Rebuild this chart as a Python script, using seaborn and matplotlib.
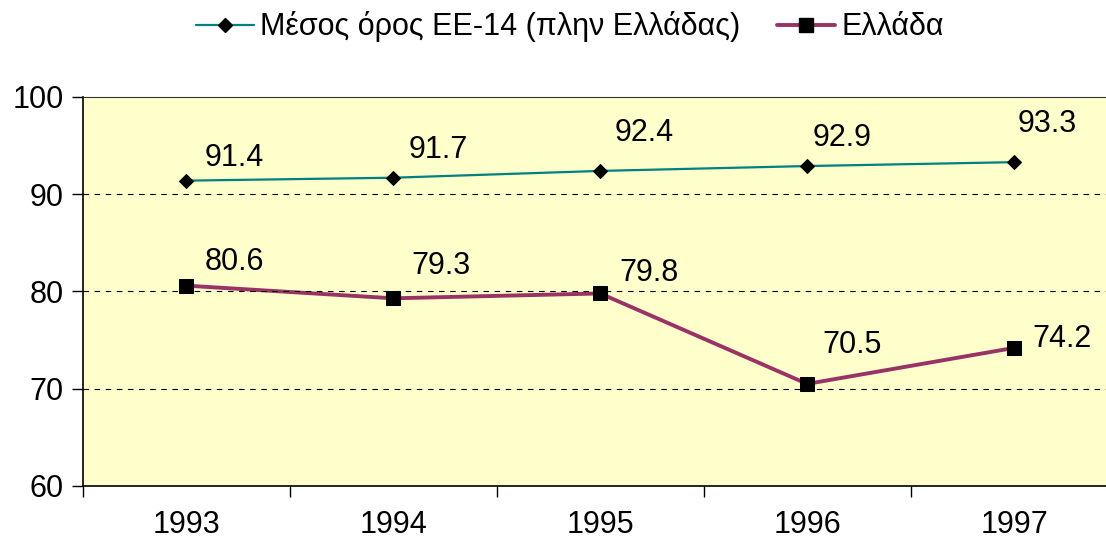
import pandas as pd
import matplotlib.pyplot as plt
import seaborn as sns
from matplotlib.lines import Line2D

# Data
years = ['1993', '1994', '1995', '1996', '1997']
eu14_avg = [91.4, 91.7, 92.4, 92.9, 93.3]
greece = [80.6, 79.3, 79.8, 70.5, 74.2]
series_names = ['Μέσος όρος ΕΕ-14 (πλην Ελλάδας)', 'Ελλάδα']

# label offsets (points) for the value labels
eu_offsets = [(34.5, 16.5), (32.5, 20), (31.5, 27.5), (25, 20), (24, 27.5)]
gr_offsets = [(34.5, 17), (34.5, 23.5), (35, 14.5), (32.5, 28), (34.5, 6.5)]
colors = ['#008080', '#993366']
markers = ['D', 's']
lws = [1.6, 2.8]
msizes = [7, 10]

df = pd.DataFrame({
    'year': years * 2,
    'pos': list(range(len(years))) * 2,
    'value': eu14_avg + greece,
    'series': [series_names[0]] * len(years) + [series_names[1]] * len(years),
})

sns.set_style('white')
plt.rcParams['font.family'] = ['Liberation Sans', 'DejaVu Sans']
plt.rcParams['text.color'] = 'black'
plt.rcParams['xtick.color'] = 'black'
plt.rcParams['ytick.color'] = 'black'

fig = plt.figure(figsize=(11.06, 5.43), dpi=100)
ax = fig.add_axes([83 / 1106, 1 - 486 / 543, (1117.5 - 83) / 1106, (486 - 97) / 543])
ax.set_facecolor('#FFFFCC')

sns.lineplot(data=df, x='pos', y='value', hue='series', style='series',
             palette=colors, markers=markers, dashes=False, ax=ax, legend=False)
for line, lw, ms in zip(ax.lines, lws, msizes):
    line.set_linewidth(lw)
    line.set_markersize(ms)
    line.set_markerfacecolor('black')
    line.set_markeredgecolor('black')

for vals, offs in [(eu14_avg, eu_offsets), (greece, gr_offsets)]:
    for i, (v, off) in enumerate(zip(vals, offs)):
        ax.annotate(f'{v:.1f}', (i, v), xytext=off, textcoords='offset points',
                    ha='center', va='center', fontsize=22, color='black')

ax.set_xlim(-0.5, len(years) - 0.5)
ax.set_ylim(60, 100)
ax.set_yticks([60, 70, 80, 90, 100])
ax.set_xticks(range(len(years)))
ax.set_xticklabels(years)
ax.set_xticks([i - 0.5 for i in range(len(years) + 1)], minor=True)
ax.tick_params(axis='x', which='major', length=0, pad=17, labelsize=22)
ax.tick_params(axis='x', which='minor', length=8, width=1, color='black', direction='out')
ax.tick_params(axis='y', length=8, width=1, color='black', direction='out', labelsize=22, pad=6)
ax.xaxis.set_ticks_position('bottom')
ax.yaxis.set_ticks_position('left')
for y in [70, 80, 90]:
    ax.axhline(y, color='black', lw=0.8, ls=(0, (5, 5)))
ax.spines['right'].set_visible(False)
ax.spines['top'].set_color('#333333')
for s in ['left', 'bottom']:
    ax.spines[s].set_color('black')
    ax.spines[s].set_linewidth(1.2)
ax.set_xlabel('')
ax.set_ylabel('')

handles = [Line2D([], [], color=c, lw=lw, marker=m, markersize=ms,
                  markerfacecolor='black', markeredgecolor='black')
           for c, lw, m, ms in zip(colors, lws, markers, msizes)]
fig.legend(handles, series_names, loc='center', bbox_to_anchor=(570 / 1106, 1 - 27 / 543),
           ncol=2, frameon=False, fontsize=22,
           handlelength=1.9, handletextpad=0.2, columnspacing=1.2)

fig.savefig('out.png', dpi=100)
